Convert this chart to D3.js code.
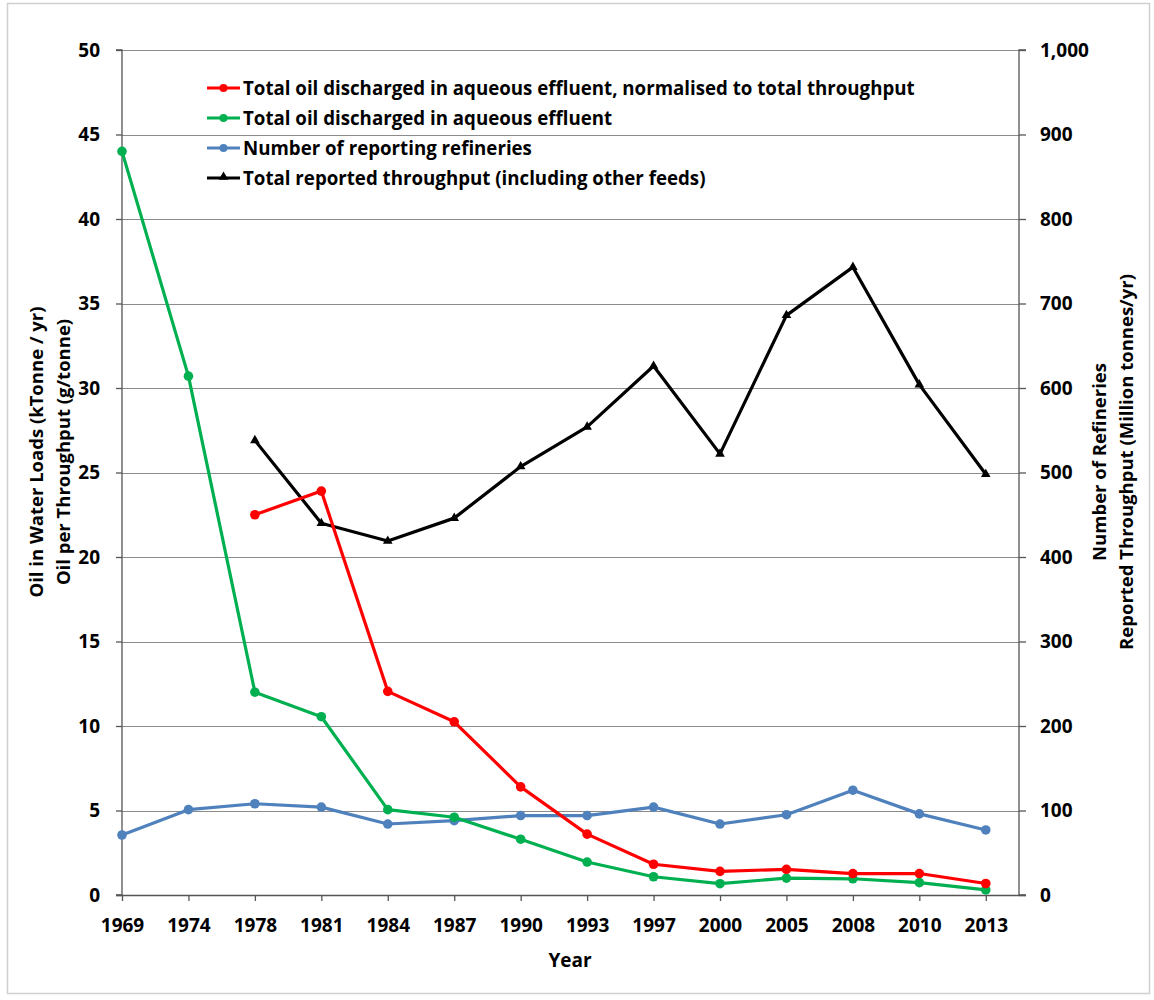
<!DOCTYPE html>
<html>
<head>
<meta charset="utf-8">
<script src="https://cdn.jsdelivr.net/npm/d3@7"></script>
<style>
  body { margin: 0; background: #fff; }
  text { font-family: "Open Sans", Lato, sans-serif; font-weight: bold; fill: #000; }
</style>
</head>
<body>
<script>
// categories (years)
var years = ["1969","1974","1978","1981","1984","1987","1990","1993","1997","2000","2005","2008","2010","2013"];

// left axis series (kTonne/yr and g/tonne)
var oilNormalised = [null, null, 22.5, 23.9, 12.05, 10.25, 6.4, 3.6, 1.82, 1.4, 1.52, 1.27, 1.27, 0.68];
var oilTotal      = [44.0, 30.7, 12.0, 10.55, 5.05, 4.6, 3.3, 1.95, 1.08, 0.67, 1.0, 0.96, 0.73, 0.3];

// right axis series
var refineries = [71, 101, 108, 104, 84, 88, 94, 94, 104, 84, 95, 124, 96, 77];
var throughput = [null, null, 538, 440, 419, 446, 507, 554, 626, 522, 686, 743, 604, 498];

var leftTicks = [0,5,10,15,20,25,30,35,40,45,50];
var rightTicks = [0,100,200,300,400,500,600,700,800,900,1000];

var W = 1154, H = 1000;
var x0 = 122, x1 = 1019, yTop = 50, yBot = 895;

var svg = d3.select("body").append("svg")
  .attr("width", W).attr("height", H);

// outer frame
svg.append("rect")
  .attr("x", 7.5).attr("y", 3.5).attr("width", 1142).attr("height", 990)
  .attr("fill", "none").attr("stroke", "#d0d0d0").attr("stroke-width", 1.5);

var x = d3.scaleLinear().domain([0, years.length - 0.5]).range([x0, x1]);
var yL = d3.scaleLinear().domain([0, 50]).range([yBot, yTop]);
var yR = d3.scaleLinear().domain([0, 1000]).range([yBot, yTop]);

// gridlines
svg.append("g").selectAll("line")
  .data(leftTicks.filter(function(d){ return d > 0; }))
  .enter().append("line")
  .attr("x1", x0).attr("x2", x1)
  .attr("y1", function(d){ return Math.round(yL(d)) + 0.5; })
  .attr("y2", function(d){ return Math.round(yL(d)) + 0.5; })
  .attr("stroke", "#8c8c8c").attr("stroke-width", 1);

// left axis
var leftAxis = svg.append("g")
  .attr("transform", "translate(" + x0 + ",0)")
  .call(d3.axisLeft(yL).tickValues(leftTicks).tickSize(6).tickPadding(16));
leftAxis.selectAll("text").style("font-size", "19px");

// right axis
var rightAxis = svg.append("g")
  .attr("transform", "translate(" + x1 + ",0)")
  .call(d3.axisRight(yR).tickValues(rightTicks).tickSize(7).tickPadding(14)
    .tickFormat(d3.format(",")));
rightAxis.selectAll("text").style("font-size", "19px");

// bottom axis
var bottomAxis = svg.append("g")
  .attr("transform", "translate(0," + yBot + ")")
  .call(d3.axisBottom(x).tickValues(d3.range(years.length)).tickSize(6).tickPadding(18)
    .tickFormat(function(i){ return years[i]; }));
bottomAxis.selectAll("text").style("font-size", "19px");
bottomAxis.select(".domain").attr("d", "M" + (x0 - 6) + ",0.5H" + (x1 + 7));

[leftAxis, rightAxis, bottomAxis].forEach(function(a){
  a.selectAll(".domain, line").attr("stroke", "#555").attr("stroke-width", 1.3);
});
leftAxis.select(".domain").attr("d", "M-6," + yTop + "H0V" + yBot + "H-6");
rightAxis.select(".domain").attr("d", "M7," + yTop + "H0V" + yBot + "H7");

// axis titles
svg.append("text").attr("x", 570).attr("y", 967).attr("text-anchor", "middle")
  .style("font-size", "19px").text("Year");

svg.append("text").attr("transform", "translate(43,452) rotate(-90)")
  .attr("text-anchor", "middle").style("font-size", "18.5px")
  .text("Oil in Water Loads (kTonne  / yr)");
svg.append("text").attr("transform", "translate(70,452) rotate(-90)")
  .attr("text-anchor", "middle").style("font-size", "18.5px")
  .text("Oil per Throughput (g/tonne)");

svg.append("text").attr("transform", "translate(1106,462) rotate(-90)")
  .attr("text-anchor", "middle").style("font-size", "18.5px")
  .text("Number of Refineries");
svg.append("text").attr("transform", "translate(1133,462) rotate(-90)")
  .attr("text-anchor", "middle").style("font-size", "18.5px")
  .text("Reported Throughput (Million tonnes/yr)");

// series
var series = [
  { name: "Total oil discharged in aqueous effluent, normalised to total throughput", values: oilNormalised, scale: yL, color: "#ff0000", marker: "circle" },
  { name: "Total oil discharged in aqueous effluent", values: oilTotal, scale: yL, color: "#00b050", marker: "circle" },
  { name: "Number of reporting refineries", values: refineries, scale: yR, color: "#4f81bd", marker: "circle" },
  { name: "Total reported throughput (including other feeds)", values: throughput, scale: yR, color: "#000000", marker: "triangle" }
];

var tri = d3.symbol().type(d3.symbolTriangle).size(40);

// draw in reverse so red ends up on top
series.slice().reverse().forEach(function(s){
  var pts = s.values.map(function(v, i){ return [i, v]; })
    .filter(function(p){ return p[1] !== null; });
  var line = d3.line()
    .x(function(p){ return x(p[0]); })
    .y(function(p){ return s.scale(p[1]); });
  svg.append("path").datum(pts)
    .attr("d", line)
    .attr("fill", "none").attr("stroke", s.color)
    .attr("stroke-width", 3.2).attr("stroke-linejoin", "round");
  var g = svg.append("g");
  if (s.marker === "circle") {
    g.selectAll("circle").data(pts).enter().append("circle")
      .attr("cx", function(p){ return x(p[0]); })
      .attr("cy", function(p){ return s.scale(p[1]); })
      .attr("r", 4.8).attr("fill", s.color);
  } else {
    g.selectAll("path").data(pts).enter().append("path")
      .attr("d", tri)
      .attr("transform", function(p){ return "translate(" + x(p[0]) + "," + s.scale(p[1]) + ")"; })
      .attr("fill", s.color);
  }
});

// legend
var legend = svg.append("g").attr("transform", "translate(207,88)");
series.forEach(function(s, i){
  var row = legend.append("g").attr("transform", "translate(0," + (i * 30) + ")");
  row.append("line").attr("x1", 0).attr("x2", 33).attr("y1", 0).attr("y2", 0)
    .attr("stroke", s.color).attr("stroke-width", 3);
  if (s.marker === "circle") {
    row.append("circle").attr("cx", 16.5).attr("cy", 0).attr("r", 4).attr("fill", s.color);
  } else {
    row.append("path").attr("d", tri).attr("transform", "translate(16.5,-1)").attr("fill", s.color);
  }
  row.append("text").attr("x", 36).attr("y", 6.5).style("font-size", "18.7px").text(s.name);
});
</script>
</body>
</html>
